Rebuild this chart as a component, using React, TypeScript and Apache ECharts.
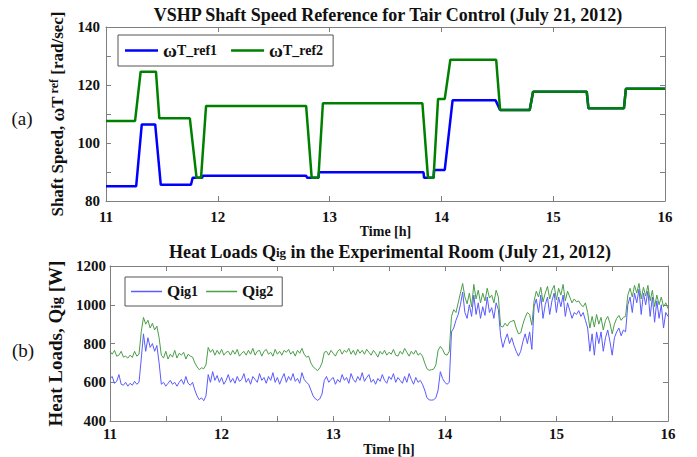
import React, { useEffect, useRef } from "react";
import * as echarts from "echarts";

const SERIF = "Liberation Serif";

// ---- (a) shaft speed references: times [h] and values [rad/sec]
const ref1Time = [11, 11.27, 11.32, 11.44, 11.49, 11.76, 11.775, 11.86, 11.865, 12.79, 12.8, 12.9, 12.905, 13.84, 13.845, 13.93, 13.935, 14.03, 14.1, 14.485, 14.525, 14.79, 14.82, 15.3, 15.315, 15.633, 15.65, 16];
const ref1Vals = [85.1, 85.1, 106.4, 106.4, 85.6, 85.6, 88, 88, 88.7, 88.7, 88, 88, 89.9, 89.9, 88, 88, 90.7, 90.7, 114.7, 114.7, 111.4, 111.4, 117.7, 117.7, 112, 112, 118.7, 118.7];
const ref2Time = [11, 11.26, 11.31, 11.447, 11.477, 11.75, 11.81, 11.85, 11.895, 12.79, 12.84, 12.9, 12.94, 13.83, 13.88, 13.93, 13.97, 14.03, 14.08, 14.49, 14.525, 14.79, 14.82, 15.3, 15.315, 15.633, 15.65, 16];
const ref2Vals = [107.6, 107.6, 124.6, 124.6, 108.5, 108.5, 88, 88, 112.8, 112.8, 88, 88, 113.7, 113.7, 88, 88, 115.2, 115.2, 128.7, 128.7, 111.4, 111.4, 117.7, 117.7, 112, 112, 118.7, 118.7];

// ---- (b) heat loads [W], sampled every 0.02 h from 11.00 to 16.00
const HEAT_START = 11;
const HEAT_STEP = 0.02;
const qig1 = [
  620, 630, 595, 605, 640, 590, 585, 600, 580, 595,
  585, 605, 590, 600, 720, 850, 760, 830, 780, 800,
  760, 790, 700, 590, 600, 580, 595, 610, 590, 600,
  580, 600, 615, 590, 630, 595, 585, 600, 560, 530,
  510, 520, 505, 530, 640, 600, 655, 610, 635, 600,
  625, 590, 610, 640, 600, 620, 595, 630, 605, 615,
  645, 600, 620, 590, 630, 615, 600, 645, 610, 625,
  595, 630, 610, 650, 600, 625, 590, 620, 645, 600,
  630, 610, 645, 605, 620, 595, 650, 615, 600, 590,
  560, 530, 515, 507, 515, 540, 610, 630, 600, 615,
  625, 590, 615, 600, 640, 610, 625, 595, 645, 615,
  600, 630, 610, 650, 605, 625, 640, 600, 615, 590,
  620, 605, 640, 610, 595, 630, 615, 645, 600, 625,
  610, 595, 630, 600, 645, 615, 590, 625, 600, 610,
  590, 560, 520, 510, 508, 510, 520, 560, 655, 620,
  600, 590, 600, 860, 880, 920, 950, 1000, 1065, 960,
  930, 1000, 940, 1050, 950, 1010, 930, 990, 945, 1040,
  960, 985, 930, 1010, 975, 840, 780, 820, 850, 800,
  830, 790, 760, 735, 760, 810, 850, 800, 860, 770,
  990, 1030, 960, 1050, 930, 1000, 1040, 950, 1020, 1060,
  960, 1040, 990, 1050, 940, 1010, 970, 930, 960, 950,
  970, 940, 960, 920, 880, 760, 850, 740, 860, 800,
  860, 760, 830, 870, 810, 740, 830, 860, 880, 840,
  870, 860, 1000, 1040, 960, 1060, 1010, 1080, 950, 1060,
  1000, 1070, 940, 1040, 910, 1020, 930, 1000, 880, 960,
  940,
];
const qig2 = [
  760, 745, 765, 735, 740, 760, 730, 735, 725, 740,
  728, 760, 735, 745, 860, 935, 900, 920, 880, 905,
  870, 890, 830, 740, 725, 760, 720, 745, 730, 765,
  725, 750, 740, 755, 720, 745, 735, 730, 700, 680,
  665, 675, 670, 690, 780, 755, 770, 740, 765, 745,
  770, 740, 755, 760, 740, 765, 745, 770, 735, 750,
  760, 740, 765, 745, 775, 740, 760, 765, 735, 760,
  770, 745, 755, 735, 770, 745, 760, 740, 765, 755,
  770, 745, 760, 735, 765, 750, 775, 745, 730, 735,
  700, 680, 670, 660, 675, 700, 755, 760, 740, 765,
  750, 735, 760, 770, 745, 765, 755, 775, 745, 765,
  740, 770, 750, 765, 745, 770, 755, 740, 765, 750,
  730, 760, 745, 765, 740, 755, 745, 770, 740, 735,
  760, 745, 775, 755, 735, 760, 745, 765, 740, 750,
  735, 700, 670, 662, 665, 668, 690, 765, 785, 770,
  745, 740, 760, 940, 975, 960, 1010, 1060, 1110, 1040,
  1005, 1060, 990, 1105, 1030, 1075, 1010, 1060, 1020, 1085,
  1035, 1050, 1010, 1075, 1040, 890, 885, 905, 890, 910,
  915, 920, 880, 850, 855, 900, 935, 960, 950, 895,
  1020, 1070, 1040, 1090, 1015, 1060, 1095, 1030, 1075, 1100,
  1025, 1085, 1050, 1105, 1020, 1070, 1040, 1010, 1030, 1015,
  1020, 1000, 990, 1010, 960, 880, 940, 885, 950, 900,
  935, 870, 920, 940, 905, 850, 900, 930, 945, 920,
  935, 940, 1050, 1085, 1040, 1100, 1060, 1110, 1030, 1090,
  1045, 1100, 1020, 1075, 990, 1050, 1000, 1040, 990, 1010,
  980,
];

const pairs = (t: number[], v: number[]) => t.map((x, i) => [x, v[i]]);
const heatPairs = (v: number[]) =>
  v.map((y, i) => [Number((HEAT_START + i * HEAT_STEP).toFixed(2)), y]);

const GRAY = "#7f7f7f";
const INK = "#111111";

const labelStyle = {
  fontFamily: SERIF,
  fontWeight: "bold",
  fontSize: 15,
  color: INK,
};

function baseAxis(extra: any) {
  return {
    axisLine: { show: true, onZero: false, lineStyle: { color: GRAY, width: 1 } },
    axisTick: { show: true, inside: true, length: 5, lineStyle: { color: GRAY } },
    splitLine: { show: false },
    ...extra,
  };
}

export default function App() {
  const ref = useRef<HTMLDivElement>(null);
  useEffect(() => {
    document.body.style.margin = "0";
    const chart = echarts.init(ref.current!, null, { renderer: "svg" });
    const xTop = { min: 11, max: 16, interval: 1 };
    const xBot = { min: 11, max: 16, interval: 0.5 };
    const yTop = { min: 80, max: 140, interval: 10 };
    const yBot = { min: 400, max: 1200, interval: 200 };
    const timeName = {
      name: "Time [h]",
      nameLocation: "middle",
      nameGap: 17,
      nameTextStyle: { fontFamily: SERIF, fontWeight: "bold", fontSize: 14, color: INK },
    };
    const option: any = {
      animation: false,
      backgroundColor: "#fff",
      textStyle: { fontFamily: SERIF, fontWeight: "bold", color: INK },
      graphic: [
        {
          type: "text",
          x: 388,
          y: 15,
          style: {
            text: "VSHP Shaft Speed Reference for Tair Control (July 21, 2012)",
            font: `bold 18px ${SERIF}`,
            fill: INK,
            align: "center",
            verticalAlign: "middle",
          },
        },
        {
          type: "text",
          x: 390,
          y: 252,
          style: {
            text: "{b|Heat Loads Q}{s|ig}{b| in the Experimental Room (July 21, 2012)}",
            align: "center",
            verticalAlign: "middle",
            fill: INK,
            rich: {
              b: { fontFamily: SERIF, fontWeight: "bold", fontSize: 18, fill: INK },
              s: { fontFamily: SERIF, fontWeight: "bold", fontSize: 13, fill: INK },
            },
          },
        },
        {
          type: "text",
          x: 22,
          y: 118,
          style: { text: "(a)", font: `19px ${SERIF}`, fill: INK, align: "center", verticalAlign: "middle" },
        },
        {
          type: "text",
          x: 23,
          y: 350,
          style: { text: "(b)", font: `19px ${SERIF}`, fill: INK, align: "center", verticalAlign: "middle" },
        },
      ],
      grid: [
        { left: 106, top: 27, width: 559, height: 174 },
        { left: 110, top: 266, width: 558, height: 157 },
      ],
      legend: [
        {
          data: ["ωT_ref1", "ωT_ref2"],
          left: 118,
          top: 35,
          orient: "horizontal",
          padding: [6, 10, 6, 7],
          icon: "rect",
          itemWidth: 33,
          itemHeight: 2.5,
          itemGap: 14,
          borderColor: "#555",
          borderWidth: 1,
          backgroundColor: "#fff",
          formatter: (n: string) => `{w|ω}{t|${n.slice(1)}}`,
          textStyle: {
            rich: {
              w: { fontFamily: SERIF, fontWeight: "bold", fontSize: 19, color: INK },
              t: { fontFamily: SERIF, fontWeight: "bold", fontSize: 14, color: INK },
            },
          },
        },
        {
          data: ["Qig1", "Qig2"],
          left: 125,
          top: 277,
          orient: "horizontal",
          padding: [6, 9, 6, 6],
          icon: "rect",
          itemWidth: 31,
          itemHeight: 1.5,
          itemGap: 8,
          borderColor: "#555",
          borderWidth: 1,
          backgroundColor: "#fff",
          formatter: (n: string) => `{q|Q}{s|${n.slice(1)}}`,
          textStyle: {
            rich: {
              q: { fontFamily: SERIF, fontWeight: "bold", fontSize: 17, color: INK },
              s: { fontFamily: SERIF, fontWeight: "bold", fontSize: 14, color: INK },
            },
          },
        },
      ],
      xAxis: [
        baseAxis({
          type: "value",
          gridIndex: 0,
          position: "bottom",
          ...xTop,
          axisLabel: { ...labelStyle, margin: 8 },
          ...timeName,
        }),
        baseAxis({ type: "value", gridIndex: 0, position: "top", ...xTop, axisLabel: { show: false } }),
        baseAxis({
          type: "value",
          gridIndex: 1,
          position: "bottom",
          ...xBot,
          axisLabel: {
            ...labelStyle,
            margin: 5,
            formatter: (v: number) => (Math.abs(v - Math.round(v)) < 1e-6 ? String(Math.round(v)) : ""),
          },
          ...timeName,
        }),
        baseAxis({ type: "value", gridIndex: 1, position: "top", ...xBot, axisLabel: { show: false } }),
      ],
      yAxis: [
        baseAxis({
          type: "value",
          gridIndex: 0,
          position: "left",
          ...yTop,
          axisLabel: {
            ...labelStyle,
            margin: 6,
            formatter: (v: number) => (v % 20 === 0 ? String(v) : ""),
          },
          name: "{n|Shaft Speed, }{w|ω}{n|T}{s| ref}{n| [rad/sec]}",
          nameLocation: "middle",
          nameRotate: 90,
          nameGap: 30,
          nameTextStyle: {
            rich: {
              n: { fontFamily: SERIF, fontWeight: "bold", fontSize: 17, color: INK },
              w: { fontFamily: SERIF, fontWeight: "bold", fontSize: 19, color: INK },
              s: { fontFamily: SERIF, fontWeight: "bold", fontSize: 12, color: INK, verticalAlign: "top" },
            },
          },
        }),
        baseAxis({ type: "value", gridIndex: 0, position: "right", ...yTop, axisLabel: { show: false } }),
        baseAxis({
          type: "value",
          gridIndex: 1,
          position: "left",
          ...yBot,
          axisLabel: { ...labelStyle, margin: 4, formatter: (v: number) => String(v) },
          name: "{n|Heat Loads, Q}{s|ig}{n| [W]}",
          nameLocation: "middle",
          nameRotate: 90,
          nameGap: 44,
          nameTextStyle: {
            rich: {
              n: { fontFamily: SERIF, fontWeight: "bold", fontSize: 19, color: INK },
              s: { fontFamily: SERIF, fontWeight: "bold", fontSize: 15, color: INK },
            },
          },
        }),
        baseAxis({ type: "value", gridIndex: 1, position: "right", ...yBot, axisLabel: { show: false } }),
      ],
      series: [
        {
          name: "ωT_ref1",
          type: "line",
          xAxisIndex: 0,
          yAxisIndex: 0,
          symbol: "none",
          data: pairs(ref1Time, ref1Vals),
          lineStyle: { color: "#0000ff", width: 2.5 },
          itemStyle: { color: "#0000ff" },
        },
        {
          name: "ωT_ref2",
          type: "line",
          xAxisIndex: 0,
          yAxisIndex: 0,
          symbol: "none",
          data: pairs(ref2Time, ref2Vals),
          lineStyle: { color: "#008000", width: 2.5 },
          itemStyle: { color: "#008000" },
        },
        {
          name: "Qig1",
          type: "line",
          xAxisIndex: 2,
          yAxisIndex: 2,
          symbol: "none",
          data: heatPairs(qig1),
          lineStyle: { color: "#5a5aff", width: 1 },
          itemStyle: { color: "#5a5aff" },
        },
        {
          name: "Qig2",
          type: "line",
          xAxisIndex: 2,
          yAxisIndex: 2,
          symbol: "none",
          data: heatPairs(qig2),
          lineStyle: { color: "#4a9e4a", width: 1 },
          itemStyle: { color: "#4a9e4a" },
        },
      ],
    };
    chart.setOption(option);
    return () => chart.dispose();
  }, []);
  return <div ref={ref} style={{ width: 697, height: 457 }} />;
}
